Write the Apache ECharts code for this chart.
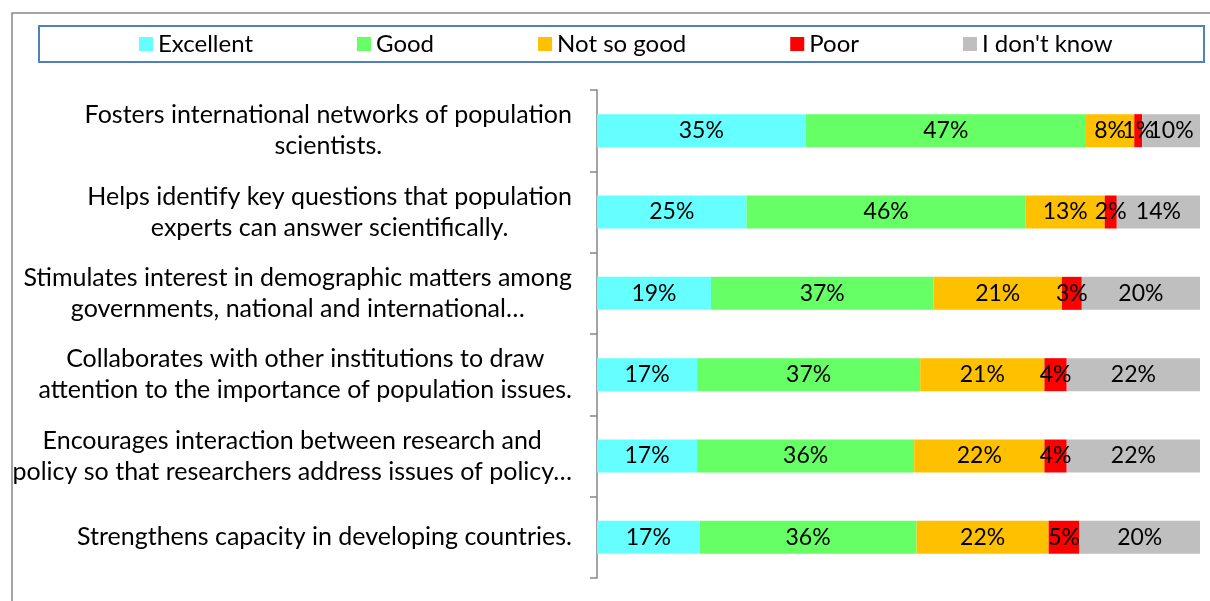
<!DOCTYPE html>
<html>
<head>
<meta charset="utf-8">
<script src="https://cdn.jsdelivr.net/npm/echarts@6/dist/echarts.min.js"></script>
<style>
  html, body { margin: 0; padding: 0; background: #fff; }
  #chart1 { width: 1210px; height: 601px; }
</style>
</head>
<body>
<div id="chart1"></div>
<script>
// categories (top to bottom)
var categories = [
    'Fosters international networks of population\nscientists.',
    'Helps identify key questions that population\nexperts can answer scientifically.',
    'Stimulates interest in demographic matters among\ngovernments, national and international…',
    'Collaborates with other institutions to draw\nattention to the importance of population issues.',
    'Encourages interaction between research and\npolicy so that researchers address issues of policy…',
    'Strengthens capacity in developing countries.'
];
var seriesNames = ['Excellent', 'Good', 'Not so good', 'Poor', "I don't know"];
// share of answers, %
var excellent = [34.6, 24.8, 18.9, 16.6, 16.6, 17.0];
var good      = [46.5, 46.3, 36.9, 37.0, 36.0, 36.0];
var notSoGood = [8.0, 13.1, 21.3, 20.6, 21.6, 21.9];
var poor      = [1.3, 2.0, 3.3, 3.7, 3.7, 5.1];
var dontKnow  = [9.6, 13.8, 19.6, 22.1, 22.1, 20.0];

var colorArr = ['#66FFFF', '#66FF66', '#FFC000', '#FF0000', '#BFBFBF'];
var font = 'Lato';

var chart1 = echarts.init(document.getElementById('chart1'));

function makeSeries(name, data, i) {
    return {
        name: name,
        type: 'bar',
        stack: 'all',
        barWidth: 33,
        data: data,
        itemStyle: {color: colorArr[i]},
        label: {
            show: true,
            position: 'inside',
            color: '#000',
            fontFamily: font,
            fontSize: 23,
            formatter: function (p) {
                return Math.round(p.value) + '%';
            }
        }
    };
}

var option = {
    animation: false,
    graphic: [
        {   // outer chart border
            type: 'rect', silent: true,
            shape: {x: 12, y: 13, width: 1220, height: 620},
            style: {fill: 'none', stroke: '#888', lineWidth: 1.5}
        },
        {   // legend box
            type: 'rect', silent: true,
            shape: {x: 39, y: 26, width: 1165, height: 36},
            style: {fill: 'none', stroke: '#4F81BD', lineWidth: 2}
        }
    ],
    legend: {
        data: seriesNames,
        left: 139,
        top: 32,
        padding: 0,
        itemGap: 104,
        itemWidth: 14,
        itemHeight: 14,
        icon: 'rect',
        textStyle: {fontFamily: font, fontSize: 24, color: '#000'}
    },
    grid: {left: 597, right: 10, top: 90, bottom: 23},
    xAxis: {type: 'value', min: 0, max: 100, show: false},
    yAxis: {
        type: 'category',
        inverse: true,
        data: categories,
        axisLine: {lineStyle: {color: '#868686', width: 1.5}},
        axisTick: {show: true, length: 7, lineStyle: {color: '#868686', width: 1.5}},
        axisLabel: {
            margin: 25,
            align: 'right',
            formatter: function (v) {
                return v.split('\n').map(function (s) { return '{c|' + s + '}'; }).join('\n');
            },
            rich: {
                c: {align: 'center', fontFamily: font, fontSize: 25, lineHeight: 31, color: '#000'}
            }
        }
    },
    series: [
        makeSeries(seriesNames[0], excellent, 0),
        makeSeries(seriesNames[1], good, 1),
        makeSeries(seriesNames[2], notSoGood, 2),
        makeSeries(seriesNames[3], poor, 3),
        makeSeries(seriesNames[4], dontKnow, 4)
    ]
};

chart1.setOption(option);
window.addEventListener('resize', function () {
    chart1.resize();
});
</script>
</body>
</html>
